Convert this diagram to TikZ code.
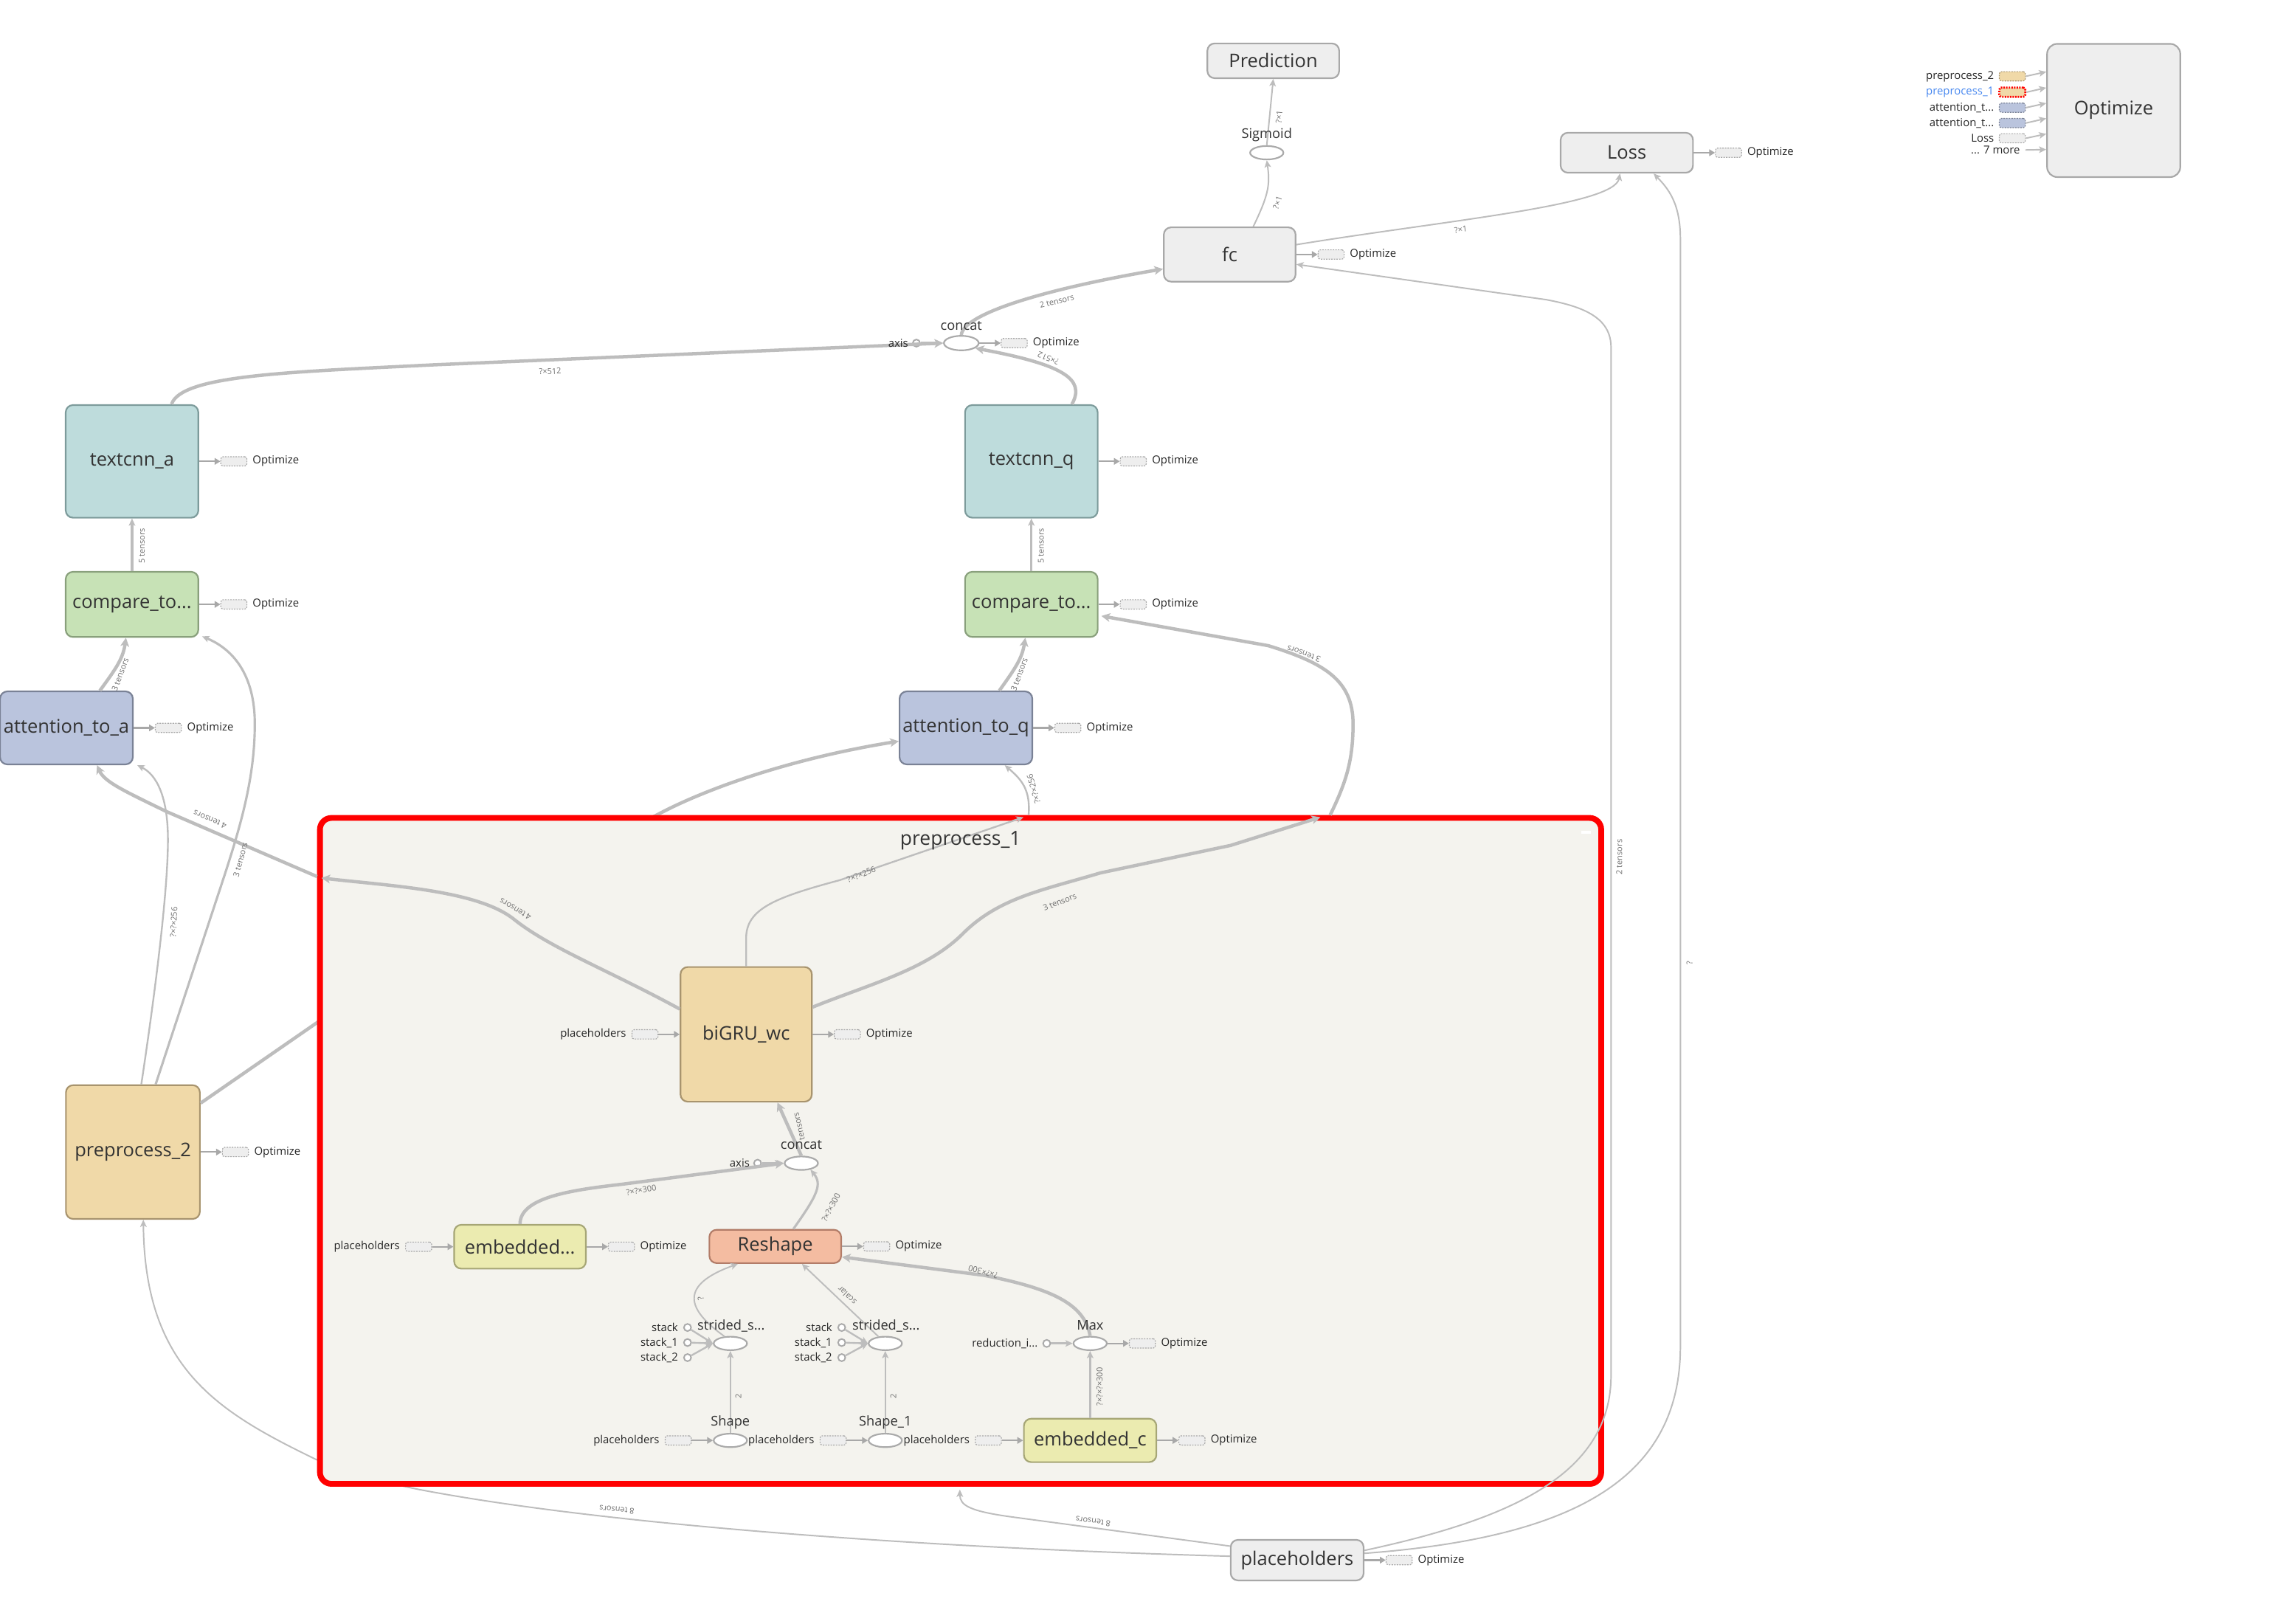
\documentclass[tikz,border=0pt]{standalone}
\usepackage{fontspec}
\setmainfont{Open Sans}
\usetikzlibrary{arrows.meta,shapes.geometric,calc}
\definecolor{edgec}{RGB}{189,189,189}
\definecolor{auxc}{RGB}{168,168,168}
\definecolor{txt}{RGB}{51,51,51}
\definecolor{lblc}{RGB}{110,110,110}
\definecolor{grayfill}{RGB}{238,238,238}
\definecolor{grayline}{RGB}{168,168,168}
\definecolor{tealfill}{RGB}{190,220,220}
\definecolor{tealline}{RGB}{125,155,155}
\definecolor{greenfill}{RGB}{199,226,182}
\definecolor{greenline}{RGB}{137,160,124}
\definecolor{bluefill}{RGB}{186,196,221}
\definecolor{blueline}{RGB}{122,130,150}
\definecolor{tanfill}{RGB}{240,217,168}
\definecolor{tanline}{RGB}{168,148,110}
\definecolor{yelfill}{RGB}{235,235,176}
\definecolor{yelline}{RGB}{166,166,118}
\definecolor{salfill}{RGB}{244,188,161}
\definecolor{salline}{RGB}{178,124,104}
\definecolor{grpfill}{RGB}{244,243,238}
\definecolor{linkblue}{RGB}{70,135,240}
\definecolor{ellc}{RGB}{170,170,170}
\tikzset{
  opbox/.style={rectangle, rounded corners=5pt, line width=1.1pt, inner sep=0pt, text=txt, font=\fontsize{13}{15}\selectfont},
  graybox/.style={opbox, draw=grayline, fill=grayfill},
  tealbox/.style={opbox, draw=tealline, fill=tealfill},
  greenbox/.style={opbox, draw=greenline, fill=greenfill},
  bluebox/.style={opbox, draw=blueline, fill=bluefill},
  tanbox/.style={opbox, draw=tanline, fill=tanfill},
  yelbox/.style={opbox, draw=yelline, fill=yelfill},
  salbox/.style={opbox, draw=salline, fill=salfill},
  opell/.style={ellipse, draw=ellc, line width=1.1pt, fill=white, minimum width=23pt, minimum height=9.3pt, inner sep=0pt},
  const/.style={circle, draw=ellc, line width=1pt, fill=white, minimum size=5pt, inner sep=0pt},
  auxbox/.style={rectangle, rounded corners=1.5pt, draw=auxc, dash pattern=on 1pt off 0.8pt, line width=0.6pt, fill=grayfill, minimum width=18pt, minimum height=6.4pt, inner sep=0pt},
  small/.style={font=\fontsize{7.6}{8}\selectfont, text=black!85, inner sep=0pt},
  oplabel/.style={font=\fontsize{9.3}{10}\selectfont, text=txt, inner sep=0pt},
  elabel/.style={font=\fontsize{5.6}{6}\selectfont, text=lblc, inner sep=0pt},
  conn/.style={draw=edgec, line width=1pt, -{Stealth[length=5pt,width=4.5pt,inset=1.2pt]}},
  connmid/.style={conn, line width=1.6pt},
  connfat/.style={draw=edgec, line width=2.3pt, -{Stealth[length=6pt,width=6pt,inset=1.5pt]}},
  auxconn/.style={draw=auxc, line width=1.1pt, -{Triangle[length=4pt,width=4.5pt]}}
}
\newcommand\optaux[2]{%
  \coordinate (#1s) at (#2);
  \node[auxbox] (#1b) at ($(#1s)+(24,0)$) {};
  \draw[auxconn] (#1s) -- (#1b.west);
  \node[small, anchor=west] (#1t) at ($(#1b.east)+(3.5,0)$) {Optimize};
}
\newcommand\phaux[2]{%
  \coordinate (#1s) at (#2);
  \node[auxbox] (#1b) at ($(#1s)+(-24,0)$) {};
  \draw[auxconn] (#1b.east) -- (#1s);
  \node[small, anchor=east] (#1t) at ($(#1b.west)+(-3.5,0)$) {placeholders};
}
\begin{document}
\begin{tikzpicture}[x=1pt,y=-1pt]
\useasboundingbox (0,0) rectangle (1567.3,1121.8);
\fill[white] (0,0) rectangle (1567.3,1121.8);

% ---------- outer nodes
\node[graybox, minimum width=91pt, minimum height=24pt] (pred) at (879.5,42) {Prediction};
\node[opell] (sig) at (875,105.5) {};
\node[graybox, minimum width=91pt, minimum height=37.5pt] (fc) at (849.4,175.8) {fc};
\node[graybox, minimum width=91.4pt, minimum height=27.6pt] (loss) at (1123.7,105.5) {Loss};
\node[graybox, rounded corners=7pt, minimum width=92pt, minimum height=92pt] (opt) at (1460,76.3) {Optimize};
\node[opell, minimum width=24pt, minimum height=10pt] (cat1) at (664,237) {};
\node[const] (ax1) at (633,237) {};
\node[tealbox, minimum width=91.6pt, minimum height=77.8pt] (tca) at (91.2,318.7) {textcnn\_a};
\node[tealbox, minimum width=91.6pt, minimum height=77.8pt] (tcq) at (712.4,318.7) {textcnn\_q};
\node[greenbox, minimum width=91.6pt, minimum height=45pt] (cpa) at (91.2,417.5) {compare\_to...};
\node[greenbox, minimum width=91.6pt, minimum height=45pt] (cpq) at (712.4,417.5) {compare\_to...};
\node[bluebox, minimum width=91.7pt, minimum height=50.4pt] (ata) at (45.9,502.8) {attention\_to\_a};
\node[bluebox, minimum width=91.7pt, minimum height=50.4pt] (atq) at (667.2,502.8) {attention\_to\_q};
\node[tanbox, minimum width=92.5pt, minimum height=92.4pt] (p2) at (91.8,795.8) {preprocess\_2};
\node[graybox, minimum width=91.8pt, minimum height=28pt] (ph) at (896,1077.7) {placeholders};

% ---------- edges passing behind the group
\draw[connfat] ([yshift=33.8pt]p2.east) -- (221,705) -- (450,565) .. controls (480,548) and (540,525) .. ([yshift=-9.2pt]atq.west);
\draw[conn] ([yshift=2.7pt]ph.west) .. controls (600,1068) and (400,1050) .. (290,1029) .. controls (260,1023) and (240,1017) .. (218,1008) .. controls (150,975) and (100,945) .. ([xshift=7.2pt]p2.south);

% ---------- group preprocess_1
\node[draw=red, line width=4pt, fill=grpfill, rounded corners=8pt, minimum width=885pt, minimum height=460pt, inner sep=0pt] (grp) at (663.5,795) {};
\fill[white] (1092.5,574) rectangle (1099,576);
\coordinate (gA) at (222,606.5);
\coordinate (gA2) at (219,605.5);
\coordinate (gB) at (707,564.5);
\coordinate (gB2) at (710.5,563);
\coordinate (gC) at (912,564.5);
\coordinate (gC2) at (918.8,563);
\coordinate (gD) at (663,1029);

% ---------- inner nodes
\node[tanbox, minimum width=90.7pt, minimum height=93pt] (bigru) at (515.4,714.5) {biGRU\_wc};
\node[opell] (cat2) at (553.5,803.5) {};
\node[const] (ax2) at (523.3,803.5) {};
\node[yelbox, minimum width=91pt, minimum height=30.3pt] (emb) at (359.2,861.2) {embedded...};
\node[salbox, minimum width=91pt, minimum height=23pt] (resh) at (535.5,861) {Reshape};
\node[opell] (str1) at (504.5,928) {};
\node[const] (s1a) at (474.9,917) {};
\node[const] (s1b) at (474.9,927.4) {};
\node[const] (s1c) at (474.9,937.8) {};
\node[opell] (str2) at (611.5,928) {};
\node[const] (s2a) at (581.4,917) {};
\node[const] (s2b) at (581.4,927.4) {};
\node[const] (s2c) at (581.4,937.8) {};
\node[opell] (mx) at (753,928) {};
\node[const] (rd) at (723,928) {};
\node[opell] (shp) at (504.5,995) {};
\node[opell] (shp1) at (611.5,995) {};
\node[yelbox, minimum width=91.5pt, minimum height=30pt] (embc) at (753,995) {embedded\_c};

% ---------- top edges
\draw[conn] (sig.north) -- (pred.south);
\draw[conn] ([xshift=16.3pt]fc.north) .. controls (876,135) and (877.5,128) .. (sig.south);
\draw[conn] ([yshift=6.8pt]fc.east) .. controls (1000,152) and (1115,142) .. ([xshift=-4.7pt]loss.south);
\draw[conn] ([yshift=6.7pt]ph.east) .. controls (1040,1050) and (1112.8,1020) .. (1112.8,950) -- (1112.8,240) .. controls (1112.8,220) and (1095,212) .. (1068,207) -- ([yshift=-6.8pt]fc.east);
\draw[conn] ([yshift=4.7pt]ph.east) .. controls (1090,1062) and (1160.7,1020) .. (1160.7,930) -- (1160.7,165) .. controls (1160.7,140) and (1152,130) .. ([xshift=18.5pt]loss.south);
\draw[connfat] (cat1.north) .. controls (665,217) and (720,200) .. ([yshift=-10pt]fc.west);
\draw[connfat] ([xshift=27.3pt]tca.north) .. controls (125,259) and (200,257) .. (300,252) -- (cat1.west);
\draw[connfat] ([xshift=28pt]tcq.north) .. controls (750,262) and (735,252) .. (cat1.-20);
\draw[connmid] (ax1.east) -- (cat1.west);
\draw[connmid] (cpa.north) -- (tca.south);
\draw[connmid] (cpq.north) -- (tcq.south);
\draw[connfat] ([xshift=23.1pt]ata.north) .. controls (80,462) and (85,455) .. ([xshift=-4.2pt]cpa.south);
\draw[connfat] ([xshift=23.1pt]atq.north) .. controls (701,462) and (706,455) .. ([xshift=-4.2pt]cpq.south);
\draw[connmid] ([xshift=15.7pt]p2.north) -- (150,620) .. controls (165,575) and (176,540) .. (176,500) .. controls (176,465) and (160,448) .. ([xshift=2pt,yshift=1pt]cpa.south east);
\draw[conn, line width=1.2pt] ([xshift=5.8pt]p2.north) .. controls (105,700) and (116,620) .. (116,580) .. controls (116,550) and (108,535) .. ([xshift=2.5pt]ata.south east);

% ---------- edges crossing the group border
\draw[connfat] ([yshift=17.5pt]bigru.west) .. controls (420,670) and (380,655) .. (355,635) .. controls (330,615) and (270,612) .. (gA);
\draw[connfat] (gA2) -- (115,560.6) .. controls (85,546) and (72,540) .. ([xshift=21.1pt]ata.south);
\draw[conn, line width=1.2pt] (bigru.north) -- (515.4,648) .. controls (515.4,628) and (535,620) .. (580,608) -- (gB);
\draw[conn, line width=1.2pt] (gB2) .. controls (712,545) and (705,538) .. ([xshift=26.8pt]atq.south);
\draw[connfat] ([yshift=18.8pt]bigru.east) .. controls (600,680) and (640,670) .. (665,645) .. controls (690,620) and (720,615) .. (760,603) -- (850,584) -- (gC);
\draw[connfat] (gC2) .. controls (930,540) and (934.6,525) .. (934.6,500) .. controls (934.6,470) and (915,458) .. (876,446) -- ([xshift=2pt,yshift=-8pt]cpq.east);
\draw[conn] ([yshift=9.7pt]ph.west) -- (700,1048) .. controls (670,1044) and (663,1040) .. (gD);

% ---------- inner edges
\draw[connfat] (cat2.north) -- ([xshift=21.6pt]bigru.south);
\draw[connfat] (emb.north) .. controls (359.2,827) and (395,822) .. (430,818) -- (cat2.west);
\draw[connmid] (ax2.east) -- (cat2.west);
\draw[connmid] ([xshift=12.5pt]resh.north) .. controls (565,825) and (568,818) .. (cat2.-35);
\draw[conn] (str1.130) .. controls (475,905) and (468,888) .. ([xshift=-25.8pt]resh.south);
\draw[conn] (str2.135) -- ([xshift=18.4pt]resh.south);
\draw[connfat] (mx.north) .. controls (749,900) and (725,890) .. (680,881) -- ([yshift=-7.3pt]resh.east);
\draw[conn] (shp.north) -- (str1.south);
\draw[conn] (shp1.north) -- (str2.south);
\draw[conn, line width=1.2pt] (embc.north) -- (mx.south);
\draw[connmid] (rd.east) -- (mx.west);
\draw[conn, line width=1.2pt] (s1a) -- (str1.west);
\draw[conn, line width=1.2pt] (s1b) -- (str1.west);
\draw[conn, line width=1.2pt] (s1c) -- (str1.west);
\draw[conn, line width=1.2pt] (s2a) -- (str2.west);
\draw[conn, line width=1.2pt] (s2b) -- (str2.west);
\draw[conn, line width=1.2pt] (s2c) -- (str2.west);

% ---------- auxiliary Optimize / placeholders
\optaux{afc}{fc.east}
\optaux{alo}{loss.east}
\optaux{ac1}{cat1.east}
\optaux{atca}{tca.east}
\optaux{atcq}{tcq.east}
\optaux{acpa}{cpa.east}
\optaux{acpq}{cpq.east}
\optaux{aata}{ata.east}
\optaux{aatq}{atq.east}
\optaux{ap2}{p2.east}
\optaux{abg}{bigru.east}
\optaux{aem}{emb.east}
\optaux{are}{resh.east}
\optaux{amx}{mx.east}
\optaux{aec}{embc.east}
\optaux{aph}{ph.east}
\phaux{pbg}{bigru.west}
\phaux{pem}{emb.west}
\phaux{psh}{shp.west}
\phaux{pshb}{shp1.west}
\phaux{pec}{embc.west}

% ---------- Optimize input list
\node[small, anchor=east] (o1t) at (1377.5,52.7) {preprocess\_2};
\node[auxbox, fill=tanfill, draw=tanline] (o1b) at (1390,52.7) {};
\draw[conn] (o1b.east) -- ($(opt.west)+(0,-26.7)$);
\node[small, anchor=east, text=linkblue] (o2t) at (1377.5,63.7) {preprocess\_1};
\node[auxbox, fill=tanfill, draw=red, line width=1.4pt] (o2b) at (1390,63.7) {};
\draw[conn] (o2b.east) -- ($(opt.west)+(0,-15.7)$);
\node[small, anchor=east] (o3t) at (1377.5,74.4) {attention\_t...};
\node[auxbox, fill=bluefill, draw=blueline] (o3b) at (1390,74.4) {};
\draw[conn] (o3b.east) -- ($(opt.west)+(0,-5)$);
\node[small, anchor=east] (o4t) at (1377.5,85) {attention\_t...};
\node[auxbox, fill=bluefill, draw=blueline] (o4b) at (1390,85) {};
\draw[conn] (o4b.east) -- ($(opt.west)+(0,5.5)$);
\node[small, anchor=east] (o5t) at (1377.5,95.5) {Loss};
\node[auxbox] (o5b) at (1390,95.5) {};
\draw[conn] (o5b.east) -- ($(opt.west)+(0,16.2)$);
\node[small, anchor=east] (o6t) at (1395.5,103.6) {... 7 more};
\draw[conn] ($(o6t.east)+(3.5,0)$) -- ($(opt.west)+(0,27)$);

% ---------- op labels
\node[oplabel] (sigl) at (875,93.4) {Sigmoid};
\node[oplabel] (cat1l) at (664,225) {concat};
\node[small, anchor=east] (ax1l) at (627.5,237) {axis};
\node[font=\fontsize{13.5}{15}\selectfont, text=txt, inner sep=0pt] (grpt) at (663.5,580.5) {preprocess\_1};
\node[oplabel] (cat2l) at (553.5,791) {concat};
\node[small, anchor=east] (ax2l) at (518,803.5) {axis};
\node[oplabel] (str1l) at (505,916) {strided\_s...};
\node[oplabel] (str2l) at (612,916) {strided\_s...};
\node[small, anchor=east] (s1al) at (468.5,917) {stack};
\node[small, anchor=east] (s1bl) at (468.5,927.4) {stack\_1};
\node[small, anchor=east] (s1cl) at (468.5,937.8) {stack\_2};
\node[small, anchor=east] (s2al) at (575,917) {stack};
\node[small, anchor=east] (s2bl) at (575,927.4) {stack\_1};
\node[small, anchor=east] (s2cl) at (575,937.8) {stack\_2};
\node[oplabel] (mxl) at (753,915.5) {Max};
\node[small, anchor=east] (rdl) at (717,928) {reduction\_i...};
\node[oplabel] (shpl) at (504.5,982.7) {Shape};
\node[oplabel] (shp1l) at (611.5,982.7) {Shape\_1};

% ---------- edge labels
\node[elabel, rotate=85] (l1) at (883.5,80.7) {?×1};
\node[elabel, rotate=70] (l2) at (882.5,140) {?×1};
\node[elabel, rotate=8] (l3) at (1009,158.5) {?×1};
\node[elabel, rotate=14] (l4) at (730,208) {2 tensors};
\node[elabel, rotate=2.5] (l5) at (380,256.5) {?×512};
\node[elabel, rotate=158] (l6) at (724,247.5) {?×512};
\node[elabel, rotate=90] (l7) at (98,377) {5 tensors};
\node[elabel, rotate=90] (l8) at (719,377) {5 tensors};
\node[elabel, rotate=70] (l9) at (83,466) {3 tensors};
\node[elabel, rotate=70] (l10) at (704,466) {3 tensors};
\node[elabel, rotate=75] (l11) at (166,594) {3 tensors};
\node[elabel, rotate=87] (l12) at (120,637) {?×?×256};
\node[elabel, rotate=157] (l13) at (145,566) {4 tensors};
\node[elabel, rotate=150] (l14) at (356,628) {4 tensors};
\node[elabel, rotate=22] (l15) at (595,604) {?×?×256};
\node[elabel, rotate=106] (l16) at (714,545) {?×?×256};
\node[elabel, rotate=22] (l17) at (732,623) {3 tensors};
\node[elabel, rotate=160] (l18) at (900.6,451.6) {3 tensors};
\node[elabel, rotate=172] (l19) at (755,1051) {8 tensors};
\node[elabel, rotate=174] (l20) at (426,1043) {8 tensors};
\node[elabel, rotate=90] (l21) at (1118.5,592) {2 tensors};
\node[elabel, rotate=90] (l22) at (1167,665) {?};
\node[elabel, rotate=103] (l23) at (552,778) {tensors};
\node[elabel, rotate=10] (l24) at (443,822) {?×?×300};
\node[elabel, rotate=62] (l25) at (574,834) {?×?×300};
\node[elabel, rotate=165] (l26) at (679,878.5) {?×?×300};
\node[elabel, rotate=100] (l27) at (484,897) {?};
\node[elabel, rotate=137] (l28) at (585,895) {scalar};
\node[elabel, rotate=90] (l29) at (510,964.5) {2};
\node[elabel, rotate=90] (l30) at (617,964.5) {2};
\node[elabel, rotate=90] (l31) at (759.5,958) {?×?×?×300};
\end{tikzpicture}
\end{document}
